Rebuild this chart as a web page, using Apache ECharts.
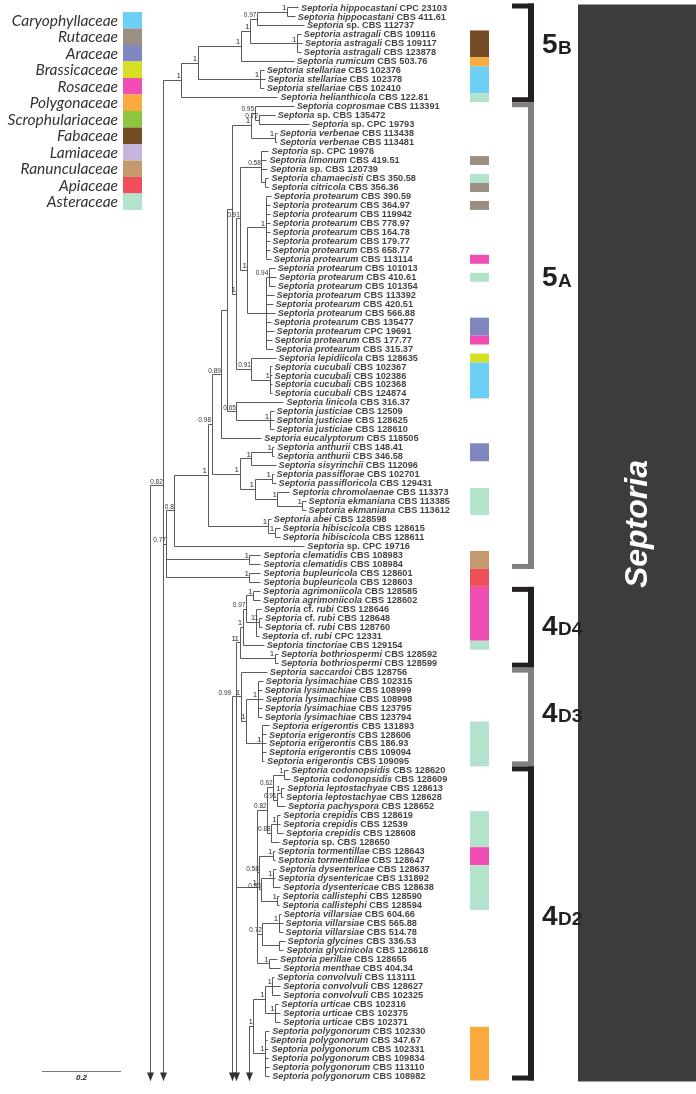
<!DOCTYPE html>
<html>
<head>
<meta charset="utf-8">
<script src="https://cdn.jsdelivr.net/npm/echarts@6/dist/echarts.min.js"></script>
<style>
  html, body { margin: 0; padding: 0; background: #fff; }
  #chart { width: 696px; height: 1094px; }
</style>
</head>
<body>
<div id="chart"></div>
<script>
// ---- leaves (top to bottom) ----
const species = [
  "hippocastani", "hippocastani", "sp.", "astragali", "astragali", "astragali", "rumicum",
  "stellariae", "stellariae", "stellariae", "helianthicola",
  "coprosmae", "sp.", "sp.", "verbenae", "verbenae", "sp.", "limonum", "sp.", "chamaecisti", "citricola",
  "protearum", "protearum", "protearum", "protearum", "protearum", "protearum", "protearum", "protearum",
  "protearum", "protearum", "protearum", "protearum", "protearum", "protearum", "protearum", "protearum",
  "protearum", "protearum",
  "lepidiicola", "cucubali", "cucubali", "cucubali", "cucubali", "linicola",
  "justiciae", "justiciae", "justiciae", "eucalyptorum", "anthurii", "anthurii", "sisyrinchii",
  "passiflorae", "passifloricola", "chromolaenae", "ekmaniana", "ekmaniana", "abei",
  "hibiscicola", "hibiscicola", "sp.", "clematidis", "clematidis", "bupleuricola", "bupleuricola",
  "agrimoniicola", "agrimoniicola", "cf. rubi", "cf. rubi", "cf. rubi", "cf. rubi", "tinctoriae",
  "bothriospermi", "bothriospermi", "saccardoi",
  "lysimachiae", "lysimachiae", "lysimachiae", "lysimachiae", "lysimachiae",
  "erigerontis", "erigerontis", "erigerontis", "erigerontis", "erigerontis",
  "codonopsidis", "codonopsidis", "leptostachyae", "leptostachyae", "pachyspora",
  "crepidis", "crepidis", "crepidis", "sp.", "tormentillae", "tormentillae",
  "dysentericae", "dysentericae", "dysentericae", "callistephi", "callistephi",
  "villarsiae", "villarsiae", "villarsiae", "glycines", "glycinicola", "perillae", "menthae",
  "convolvuli", "convolvuli", "convolvuli", "urticae", "urticae", "urticae",
  "polygonorum", "polygonorum", "polygonorum", "polygonorum", "polygonorum", "polygonorum"
];
const strains = [
  "CPC 23103", "CBS 411.61", "CBS 112737", "CBS 109116", "CBS 109117", "CBS 123878", "CBS 503.76",
  "CBS 102376", "CBS 102378", "CBS 102410", "CBS 122.81",
  "CBS 113391", "CBS 135472", "CPC 19793", "CBS 113438", "CBS 113481", "CPC 19976", "CBS 419.51",
  "CBS 120739", "CBS 350.58", "CBS 356.36",
  "CBS 390.59", "CBS 364.97", "CBS 119942", "CBS 778.97", "CBS 164.78", "CBS 179.77", "CBS 658.77",
  "CBS 113114", "CBS 101013", "CBS 410.61", "CBS 101354", "CBS 113392", "CBS 420.51", "CBS 566.88",
  "CBS 135477", "CPC 19691", "CBS 177.77", "CBS 315.37",
  "CBS 128635", "CBS 102367", "CBS 102386", "CBS 102368", "CBS 124874", "CBS 316.37",
  "CBS 12509", "CBS 128625", "CBS 128610", "CBS 118505", "CBS 148.41", "CBS 346.58", "CBS 112096",
  "CBS 102701", "CBS 129431", "CBS 113373", "CBS 113385", "CBS 113612", "CBS 128598",
  "CBS 128615", "CBS 128611", "CPC 19716", "CBS 108983", "CBS 108984", "CBS 128601", "CBS 128603",
  "CBS 128585", "CBS 128602", "CBS 128646", "CBS 128648", "CBS 128760", "CPC 12331", "CBS 129154",
  "CBS 128592", "CBS 128599", "CBS 128756",
  "CBS 102315", "CBS 108999", "CBS 108998", "CBS 123795", "CBS 123794",
  "CBS 131893", "CBS 128606", "CBS 186.93", "CBS 109094", "CBS 109095",
  "CBS 128620", "CBS 128609", "CBS 128613", "CBS 128628", "CBS 128652",
  "CBS 128619", "CBS 12539", "CBS 128608", "CBS 128650", "CBS 128643", "CBS 128647",
  "CBS 128637", "CBS 131892", "CBS 128638", "CBS 128590", "CBS 128594",
  "CBS 604.66", "CBS 565.88", "CBS 514.78", "CBS 336.53", "CBS 128618", "CBS 128655", "CBS 404.34",
  "CBS 113111", "CBS 128627", "CBS 102325", "CBS 102316", "CBS 102375", "CBS 102371",
  "CBS 102330", "CBS 347.67", "CBS 102331", "CBS 109834", "CBS 113110", "CBS 108982"
];

// ---- tree (newick, leaf numbers, branch lengths in subst./site, support after ")") ----
// "sNN" = lineage that continues below the figure (arrow)
const clade5B = "((((((1:0.028,2:0.020)1:0.076,3:0.119)0.97:0.018,(4:0.010,5:0.013,6:0.010)1:0.119)1:0.023,7:0.134)1:0.109,(8:0.010,9:0.013,10:0.010)1:0.157)1:0.041,11:0.243)1";
const cladeVerbenae = "((12:0.099,(13:0.041,14:0.127)0.72:0.010)0.95:0.010,(15:0.005,16:0.005)1:0.061)1";
const cladeProtearum = "(((17:0.018,18:0.013,19:0.015,(20:0.008,21:0.008):0.010)0.58:0.053,((22:0.013,23:0.010,24:0.010,25:0.010,26:0.010,27:0.010,28:0.010,29:0.013)1:0.046,((30:0.015,31:0.018,32:0.015)0.94:0.008,33:0.020,34:0.018,35:0.023,36:0.013,37:0.020,38:0.015,39:0.018):0.046)1:0.018)0.91:0.010,(40:0.061,(41:0.003,42:0.003,43:0.003,44:0.003)1:0.048)0.91:0.038)1";
const cladeJusticiae = "(45:0.119,(46:0.010,47:0.010,48:0.010)1:0.084)0.65";
const cladeAnthurii = "(((50:0.005,51:0.005)1:0.053,52:0.061)1:0.030,((53:0.005,54:0.010)1:0.043,(55:0.030,(56:0.008,57:0.008)1:0.063)1:0.058)1:0.038)1";
const cladeAbei = "(58:0.008,(59:0.013,60:0.013)1:0.018)1";
const clade4D4 = "((((66:0.018,67:0.018)1:0.018,(68:0.013,(69:0.008,70:0.008)1:0.008,71:0.008)1:0.025)0.97:0.008,72:0.053)1:0.008,(73:0.008,74:0.008)1:0.089)1";
const clade4D3 = "(75:0.066,((76:0.013,77:0.010,78:0.013,79:0.010,80:0.010)1:0.030,(81:0.018,82:0.010,83:0.010,84:0.010,85:0.005)1:0.041)1:0.013)1";
const clade4D2a = "((((86:0.010,87:0.015)1:0.028,((88:0.008,89:0.005)1:0.010,90:0.020)0.91:0.010)0.62:0.015,((91:0.008,92:0.008,93:0.015)1:0.015,94:0.020)0.88:0.010)0.82:0.025,((95:0.005,96:0.005)1:0.035,((97:0.008,98:0.005,99:0.018)1:0.030,(100:0.005,101:0.005)1:0.041)0.83:0.005)0.58:0.005,((102:0.005,103:0.010,104:0.010)1:0.041,(105:0.013,106:0.010):0.043)0.72:0.013,(107:0.020,108:0.028)1:0.030)1";
const clade4D2b = "(((109:0.005,110:0.020,111:0.020)1:0.018,(112:0.008,113:0.013,114:0.013)1:0.025)1:0.030,(115:0.010,116:0.005,117:0.008,118:0.008,119:0.010,120:0.010)1:0.030)1";

const clade5A = `((((((${cladeVerbenae}:0.046,${cladeProtearum}:0.010):0.013,${cladeJusticiae}:0.023):0.015,49:0.101)0.89:0.025,${cladeAnthurii}:0.071)0.98:0.010,${cladeAbei}:0.152)1:0.084,61:0.329)0.8`;
const newick = `((${clade5B}:0.046,(${clade5A}:0.020,(62:0.028,63:0.028)1:0.210,(64:0.028,65:0.028)1:0.210)0.77:0.008,s99.4:0.05)0.82:0.035,` +
  `(${clade4D3}:0.023,s200:0.05)0.99:0.208,` +
  `(${clade4D4}:0.008,${clade4D2a}:0.053,s200:0.05)1:0.220,` +
  `(${clade4D2b}:0.010,s200:0.05):0.253);`;

// ---- host families ----
const families = ["Caryophyllaceae", "Rutaceae", "Araceae", "Brassicaceae", "Rosaceae", "Polygonaceae",
  "Scrophulariaceae", "Fabaceae", "Lamiaceae", "Ranunculaceae", "Apiaceae", "Asteraceae"];
const familyColors = ["#6dcff6", "#9b8f84", "#7f86c0", "#d7df23", "#f04eb4", "#fbaa3f",
  "#8dc63f", "#754c24", "#c6b5dc", "#c49a6c", "#ef4f5a", "#b3e3cc"];
// [first leaf, last leaf, family index]
const hostBars = [[4, 6, 7], [7, 7, 5], [8, 10, 0], [11, 11, 11], [18, 18, 1], [20, 20, 11], [21, 21, 1],
  [23, 23, 1], [29, 29, 4], [31, 31, 11], [36, 37, 2], [38, 38, 4], [40, 40, 3], [41, 44, 0],
  [50, 51, 2], [55, 57, 11], [62, 63, 9], [64, 65, 10], [66, 71, 4], [72, 72, 11], [81, 85, 11],
  [91, 94, 11], [95, 96, 4], [97, 101, 11], [115, 120, 5]];

// ---- clades: [number, letters, first leaf, last leaf, colour, label at leaf] ----
const clades = [["5", "B", 1, 11, "#231f20", 5.5], ["5", "A", 12, 63, "#808080", 31.5],
  ["4", "D4", 66, 74, "#231f20", 70.3], ["4", "D3", 75, 85, "#808080", 80], ["4", "D2", 86, 120, "#231f20", 102.6]];
const genus = ["Septoria", 1, 120, 58.5];
const scaleBar = 0.2;

// ---- layout ----
const pxPerUnit = 395, rootPx = 150, Y_MAX = 120.5;
const lineColor = "#5a5a5a";

function parseNewick(str) {
  const s = str.replace(/\s+/g, "");
  let i = 0;
  function readNode() {
    const node = { children: [], len: 0 };
    if (s[i] === "(") {
      i++;
      node.children.push(readNode());
      while (s[i] === ",") { i++; node.children.push(readNode()); }
      i++;
    }
    let name = "";
    while (i < s.length && ":,);".indexOf(s[i]) < 0) name += s[i++];
    node.name = name;
    if (s[i] === ":") {
      i++;
      let len = "";
      while (i < s.length && ",);".indexOf(s[i]) < 0) len += s[i++];
      node.len = parseFloat(len);
    }
    return node;
  }
  return readNode();
}

function place(node, parentX) {
  node.x = parentX + node.len;
  if (node.children.length) {
    node.children.forEach(c => place(c, node.x));
    const ys = node.children.map(c => c.y);
    node.top = Math.min(...ys);
    node.bottom = Math.max(...ys);
    node.y = (node.top + node.bottom) / 2;
    node.stub = node.children.some(c => c.isStub);
  } else if (node.name[0] === "s") {
    node.isStub = true;
    node.y = parseFloat(node.name.slice(1));
  } else {
    node.leaf = parseInt(node.name, 10);
    node.y = node.leaf;
  }
}

const root = parseNewick(newick);
place(root, 0);

const segs = [], arrows = [], supports = [], tips = [];
function collect(node, parent) {
  if (parent && !node.isStub) segs.push([parent.x, node.y, node.x, node.y]);
  if (node.children.length) {
    const bottom = node.stub ? 999 : node.bottom;
    segs.push([node.x, node.top, node.x, bottom]);
    if (bottom > Y_MAX) arrows.push([node.x, Y_MAX]);
    if (node.name) supports.push([node.x, node.y <= Y_MAX ? node.y : node.top, node.name]);
    node.children.forEach(c => collect(c, node));
  } else if (!node.isStub) {
    tips.push([node.x, node.y, node.leaf - 1]);
  }
}
collect(root, null);

function leafLabel(k) {
  const sp = species[k];
  let s = "{i|Septoria }";
  if (sp === "sp.") s += "{n|sp. }";
  else if (sp.indexOf("cf. ") === 0) s += "{n|cf. }{i|" + sp.slice(4) + " }";
  else s += "{i|" + sp + " }";
  return s + "{n|" + strains[k] + "}";
}

const crisp = v => Math.round(v - 0.5) + 0.5;
const labelFont = "Liberation Sans";

const chart = echarts.init(document.getElementById("chart"));
const option = {
  animation: false,
  backgroundColor: "#fff",
  grid: { left: 0, top: 3.5, width: 696, height: 1077 },
  xAxis: { type: "value", min: -rootPx / pxPerUnit, max: (696 - rootPx) / pxPerUnit, show: false },
  yAxis: { type: "value", min: 0.5, max: Y_MAX, inverse: true, show: false },
  series: [
    {
      // genus bar
      type: "custom", silent: true, data: [[genus[1], genus[2]]],
      renderItem(params, api) {
        const y1 = api.coord([0, api.value(0) - 0.5])[1];
        const y2 = api.coord([0, api.value(1) + 0.5])[1];
        const yl = api.coord([0, genus[3]])[1];
        return {
          type: "group", children: [
            { type: "rect", shape: { x: 578, y: y1 + 1, width: 118, height: y2 - y1 }, style: { fill: "#3c3c3c" } },
            {
              type: "text", x: 638, y: yl, rotation: Math.PI / 2,
              style: {
                text: genus[0], fill: "#fff", font: 'italic bold 32px "Liberation Sans"',
                align: "center", verticalAlign: "middle", textAlign: "center", textVerticalAlign: "middle"
              }
            }
          ]
        };
      }
    },
    {
      // host colour bars
      type: "custom", silent: true, data: hostBars,
      renderItem(params, api) {
        const y1 = api.coord([0, api.value(0) - 0.5])[1];
        const y2 = api.coord([0, api.value(1) + 0.5])[1];
        return {
          type: "rect", shape: { x: 470, y: y1, width: 19, height: y2 - y1 },
          style: { fill: familyColors[api.value(2)] }
        };
      }
    },
    {
      // clade brackets
      type: "custom", silent: true, data: clades.map(c => [c[2], c[3], c[5]]),
      renderItem(params, api) {
        const c = clades[params.dataIndex];
        const y1 = api.coord([0, api.value(0) - 0.5])[1];
        const y2 = api.coord([0, api.value(1) + 0.5])[1];
        const yl = api.coord([0, api.value(2)])[1];
        return {
          type: "group", children: [
            { type: "rect", shape: { x: 528, y: y1, width: 6, height: y2 - y1 }, style: { fill: c[4] } },
            { type: "rect", shape: { x: 512, y: y1, width: 22, height: 5 }, style: { fill: c[4] } },
            { type: "rect", shape: { x: 512, y: y2 - 5, width: 22, height: 5 }, style: { fill: c[4] } },
            {
              type: "text", x: 542, y: yl + 11,
              style: { text: c[0], fill: "#231f20", font: 'bold 28px "Liberation Sans"', align: "left", verticalAlign: "bottom", textAlign: "left", textVerticalAlign: "bottom" }
            },
            {
              type: "text", x: 558, y: yl + 9.5,
              style: { text: c[1], fill: "#231f20", font: 'bold 19px "Liberation Sans"', align: "left", verticalAlign: "bottom", textAlign: "left", textVerticalAlign: "bottom" }
            }
          ]
        };
      }
    },
    {
      // branches
      type: "custom", silent: true, clip: true, data: segs,
      renderItem(params, api) {
        const a = api.coord([api.value(0), api.value(1)]);
        const b = api.coord([api.value(2), api.value(3)]);
        return {
          type: "line",
          shape: { x1: crisp(a[0]), y1: crisp(a[1]), x2: crisp(b[0]), y2: crisp(b[1]) },
          style: { stroke: lineColor, lineWidth: 1 }
        };
      }
    },
    {
      // arrows for lineages continuing below
      type: "custom", silent: true, data: arrows,
      renderItem(params, api) {
        const p = api.coord([api.value(0), api.value(1)]);
        const x = crisp(p[0]);
        return {
          type: "polygon",
          shape: { points: [[x - 3.5, p[1] - 8], [x + 3.5, p[1] - 8], [x, p[1] + 0.5]] },
          style: { fill: "#333" }
        };
      }
    },
    {
      // support values
      type: "custom", silent: true, data: supports,
      renderItem(params, api) {
        const p = api.coord([api.value(0), api.value(1)]);
        const t = supports[params.dataIndex][2];
        const f = t === "1" ? '8px "Liberation Sans"' : '6.5px "Liberation Sans"';
        return {
          type: "text", x: p[0] - 1, y: p[1] - 0.5,
          style: { text: t, fill: "#333", font: f, align: "right", verticalAlign: "bottom", textAlign: "right", textVerticalAlign: "bottom" }
        };
      }
    },
    {
      // tip labels
      type: "scatter", silent: true, data: tips,
      symbol: "circle", symbolSize: 1, itemStyle: { color: "rgba(0,0,0,0)" },
      label: {
        show: true, position: "right", distance: 2, color: "#111",
        formatter: p => leafLabel(p.value[2]),
        rich: {
          i: { fontFamily: labelFont, fontWeight: "bold", fontStyle: "italic", fontSize: 9.2, color: "#111" },
          n: { fontFamily: labelFont, fontWeight: "bold", fontSize: 9.2, color: "#111" }
        }
      },
      labelLayout: { hideOverlap: false }
    }
  ]
};
chart.setOption(option);

// legend and scale bar
const graphics = [];
families.forEach((f, k) => {
  const top = 12 + k * 16.5;
  graphics.push({ type: "rect", shape: { x: 123, y: top, width: 19, height: 16.5 }, style: { fill: familyColors[k] } });
  graphics.push({
    type: "text", x: 118, y: top + 8.5,
    style: { text: f, fill: "#333", font: 'italic 15.5px Lato', align: "right", verticalAlign: "middle", textAlign: "right", textVerticalAlign: "middle" }
  });
});
const sbW = chart.convertToPixel({ xAxisIndex: 0 }, scaleBar) - chart.convertToPixel({ xAxisIndex: 0 }, 0);
graphics.push({ type: "line", shape: { x1: 42, y1: 1071.5, x2: 42 + sbW, y2: 1071.5 }, style: { stroke: "#777", lineWidth: 1.2 } });
graphics.push({
  type: "text", x: 42 + sbW / 2, y: 1078,
  style: { text: String(scaleBar), fill: "#222", font: 'italic bold 8px "Liberation Sans"', align: "center", verticalAlign: "middle", textAlign: "center", textVerticalAlign: "middle" }
});
chart.setOption({ graphic: graphics });
</script>
</body>
</html>
